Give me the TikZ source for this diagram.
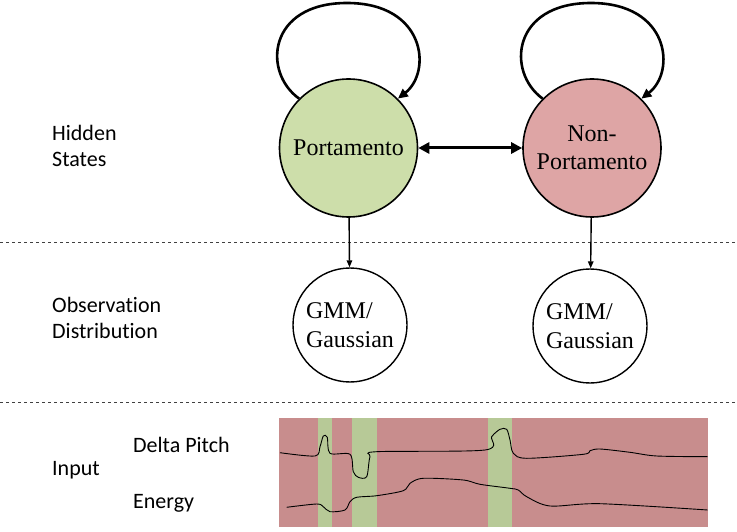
\documentclass[tikz,border=0pt]{standalone}
\usepackage{fontspec}
\setmainfont{Liberation Serif}
\newfontfamily\labelfont[Ligatures=NoCommon]{Carlito}
\usetikzlibrary{arrows.meta}
\definecolor{G}{RGB}{205,222,170}
\definecolor{R}{RGB}{222,165,165}
\definecolor{Rin}{RGB}{200,141,141}
\definecolor{Gin}{RGB}{183,201,151}

\tikzset{
  state/.style={draw, line width=1.6pt, circle, minimum size=138pt, inner sep=0pt,
    align=center, font=\fontsize{24}{28.5}\selectfont},
  obs/.style={draw, line width=1.4pt, circle, minimum size=114pt, inner sep=0pt,
    align=left, font=\fontsize{24}{29}\selectfont},
  lbl/.style={anchor=west, align=left, inner sep=0pt, font=\labelfont\fontsize{22}{26}\selectfont},
  selfloop/.style={line width=2.6pt, -{Triangle[length=10pt,width=9pt]}},
  trans/.style={line width=3pt, {Triangle[length=11pt,width=11pt]}-{Triangle[length=11pt,width=11pt]}},
  emit/.style={line width=1.4pt, -{Triangle[length=7pt,width=5.5pt]}},
  sep/.style={dash pattern=on 3pt off 3pt, line width=0.9pt, black!75}
}

\begin{document}
\begin{tikzpicture}[x=1pt, y=-1pt]
	\useasboundingbox (0,0) rectangle (737,532);

	%Separadores
	\draw[sep] (0,242) -- (737,242);
	\draw[sep] (0,402) -- (737,402);

	%Etiquetas de la izquierda
	\node[lbl] (lhidden) at (52,146) {Hidden\\States};
	\node[lbl] (lobs) at (52,318) {Observation\\Distribution};
	\node[lbl] (linput) at (52,470) {Input};

	%Estados ocultos
	\node[state, fill=G] (porta) at (348.5,148) {Portamento};
	\node[state, fill=R] (nonporta) at (592,148) {Non-\\Portamento};

	%Lazos
	\coordinate (ptop) at (347,3);
	\coordinate (ntop) at (591,3);
	\draw[selfloop] (porta.135) .. controls (262,72) and (268,3) .. (ptop)
	   .. controls (426,3) and (432,72) .. (porta.45);
	\draw[selfloop] (nonporta.135) .. controls (506,72) and (512,3) .. (ntop)
	   .. controls (670,3) and (676,72) .. (nonporta.45);

	%Transicion
	\draw[trans] (porta) -- (nonporta);

	%Observaciones
	\node[obs] (gmma) at (350,325) {GMM/\\Gaussian};
	\node[obs] (gmmb) at (590,326) {GMM/\\Gaussian};
	\draw[emit] (porta) -- (gmma);
	\draw[emit] (nonporta) -- (gmmb);

	%Entrada
	\fill[Rin] (279,418) rectangle (708,527);
	\fill[Gin] (318,418) rectangle (332,527);
	\fill[Gin] (352,418) rectangle (377,527);
	\fill[Gin] (488,418) rectangle (512,527);

	\draw[line width=0.9pt] plot[smooth, tension=0.5] coordinates {
	   (280,452.7) (315,456) (320,446.7) (323.3,436) (327.3,437.3) (330,453.3)
	   (350,454.3) (353.3,471.7) (358.3,477.3) (366.7,476.7) (370,456.7)
	   (376.7,451.7) (485,450) (491.7,436.7) (500,429.3) (506.7,429.3)
	   (510,440) (513.3,453.3) (526.7,458.3) (583.3,454.3) (590,450.7)
	   (600,449) (630,452.3) (656.7,456) (707.7,456.7)};
	\draw[line width=0.9pt] plot[smooth, tension=0.5] coordinates {
	   (286.7,507.3) (316.7,504) (323.3,506.7) (330,511.7) (345,510)
	   (350,501.7) (356.7,497.3) (376.7,495.7) (403.3,490.7) (410,483.3)
	   (423.3,478.3) (463.3,480) (480,484.3) (510,488.3) (518.3,490)
	   (526.7,496.7) (550,506) (600,503.7) (707.7,510)};

	\node[lbl, anchor=base west] (ldelta) at (133,452) {Delta Pitch};
	\node[lbl, anchor=base west] (lenergy) at (133,508) {Energy};
\end{tikzpicture}
\end{document}
